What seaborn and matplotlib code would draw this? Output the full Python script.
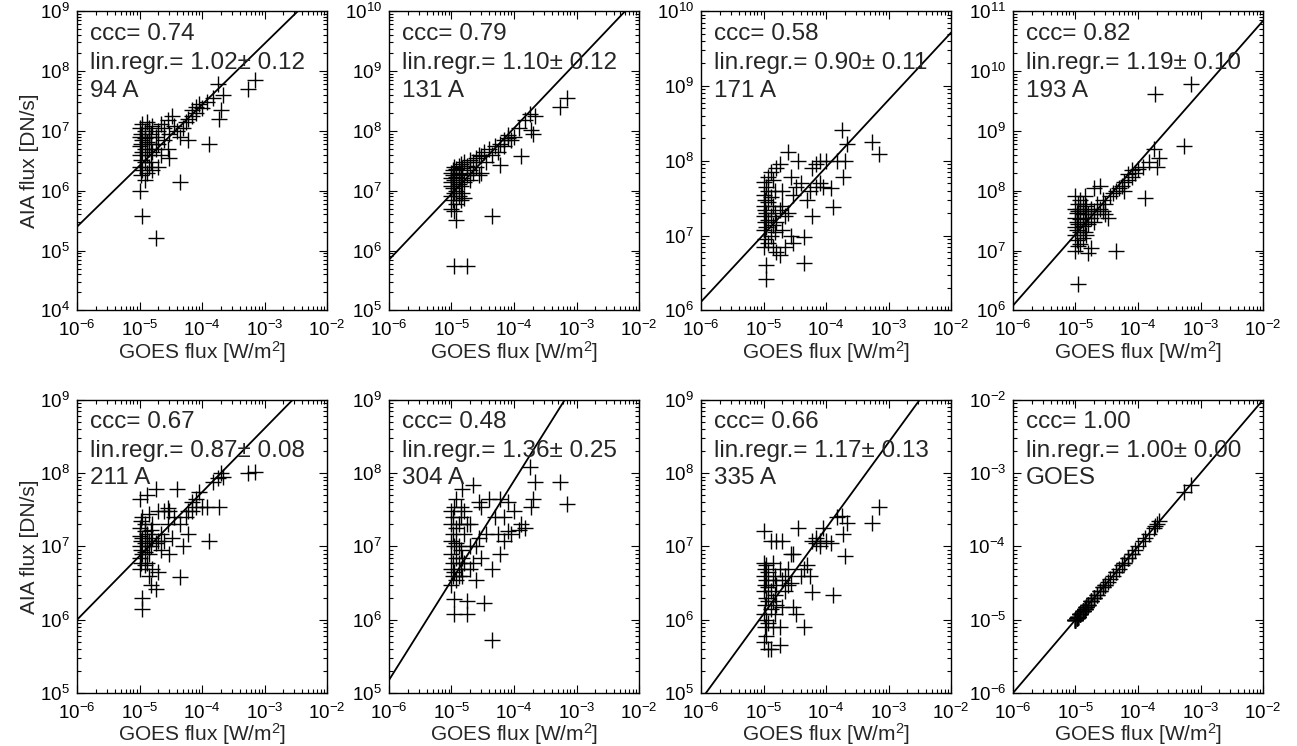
import numpy as np
import pandas as pd
import seaborn as sns
import matplotlib
matplotlib.use('Agg')
import matplotlib.pyplot as plt
from matplotlib.ticker import LogLocator, NullFormatter

# GOES peak flux of the flares (W/m^2), shared by all panels
goes = [1.0e-5, 1.0e-5, 1.0e-5, 1.0e-5, 1.0e-5, 1.0e-5,
        1.05e-5, 1.05e-5, 1.05e-5, 1.05e-5,
        1.1e-5, 1.1e-5, 1.1e-5, 1.1e-5, 1.1e-5,
        1.2e-5, 1.2e-5, 1.2e-5, 1.2e-5, 1.2e-5,
        1.3e-5, 1.3e-5, 1.3e-5, 1.3e-5,
        1.4e-5, 1.4e-5, 1.4e-5, 1.4e-5,
        1.5e-5, 1.5e-5, 1.5e-5,
        1.6e-5, 1.6e-5, 1.6e-5,
        1.8e-5, 1.8e-5, 1.8e-5,
        2.0e-5, 2.0e-5, 2.0e-5,
        2.2e-5, 2.2e-5, 2.5e-5, 2.5e-5, 2.8e-5, 2.8e-5, 3.0e-5, 3.0e-5,
        3.3e-5, 3.6e-5, 4.0e-5, 4.5e-5, 4.5e-5, 5.0e-5, 5.5e-5,
        6.0e-5, 6.0e-5, 7.0e-5, 7.0e-5, 8.0e-5, 8.0e-5, 9.0e-5,
        1.0e-4, 1.2e-4, 1.3e-4, 1.5e-4, 1.8e-4, 1.9e-4, 2.0e-4, 2.2e-4,
        5.5e-4, 7.0e-4]

# AIA peak flux (DN/s) per wavelength, same order as goes
aia_94 = [1.0e6, 2.5e6, 4e6, 5.5e6, 8e6, 1.1e7,
          1.8e6, 3.2e6, 6e6, 9e6,
          3.8e5, 2.2e6, 4.5e6, 7e6, 1.3e7,
          1.5e6, 3e6, 5e6, 7.5e6, 1.0e7,
          2e6, 4e6, 6.5e6, 1.4e7,
          2.5e6, 5e6, 8e6, 1.1e7,
          3e6, 6e6, 9e6,
          2.2e6, 4.5e6, 1.2e7,
          1.6e5, 5e6, 8e6,
          2.5e6, 6e6, 1e7,
          4e6, 1.3e7, 7e6, 1.1e7, 5e6, 1.5e7, 3.5e6, 9e6,
          1.8e7, 1.2e7, 1e7, 1.4e6, 8e6, 1.1e7, 1.4e7,
          7e6, 1.6e7, 1.8e7, 2.2e7, 2e7, 2.5e7, 2.8e7,
          2.4e7, 3e7, 6e6, 3.5e7, 6e7, 1.6e7, 2.2e7, 4e7,
          5e7, 7e7]
aia_131 = [5e6, 8e6, 1.2e7, 1.6e7, 2e7, 1.4e7,
           7e6, 1.1e7, 1.8e7, 2.2e7,
           5.5e5, 4.5e6, 9e6, 1.5e7, 2.5e7,
           3.2e6, 6e6, 1e7, 1.7e7, 2.3e7,
           8e6, 1.3e7, 1.9e7, 2.6e7,
           7e6, 1.2e7, 2e7, 2.8e7,
           9e6, 1.6e7, 2.4e7,
           7.5e6, 1.4e7, 3e7,
           5.5e5, 1.8e7, 2.6e7,
           1.5e7, 2.2e7, 3.2e7,
           2e7, 3e7, 2.5e7, 3.5e7, 1.8e7, 4e7, 2e7, 3.8e7,
           4.5e7, 3e7, 5e7, 3.8e6, 4e7, 5.5e7, 4.5e7,
           2.7e7, 6e7, 5.5e7, 7e7, 7.5e7, 8.5e7, 7e7,
           8e7, 1.1e8, 3.8e7, 1.5e8, 1.9e8, 1.05e8, 9e7, 1.8e8,
           2.5e8, 3.5e8]
aia_171 = [7e6, 1.2e7, 1.8e7, 2.5e7, 3.5e7, 5.2e7,
           9e6, 1.5e7, 2.2e7, 3e7,
           2.6e6, 4e6, 1.3e7, 2e7, 4.5e7,
           8e6, 1.6e7, 2.8e7, 4e7, 6e7,
           1e7, 1.8e7, 3.3e7, 7e7,
           7e6, 1.4e7, 2.5e7, 5.5e7,
           1.1e7, 2e7, 4e7,
           6e6, 1.5e7, 8e7,
           5.5e6, 2.2e7, 9e7,
           1.2e7, 2.5e7, 4e7,
           7e6, 1.8e7, 2e7, 1.3e8, 1e7, 6e7, 8e6, 3.5e7,
           4.5e7, 1e8, 5e7, 4.3e6, 9.5e6, 3e7, 4e7,
           1.8e7, 8e7, 4.5e7, 9e7, 5e7, 1e8, 4.5e7,
           1e8, 4.3e7, 2.4e7, 1e8, 2.6e8, 6e7, 1e8, 1.7e8,
           1.8e8, 1.25e8]
aia_193 = [1e7, 1.8e7, 2.5e7, 3.5e7, 5e7, 8e7,
           1.5e7, 2.2e7, 3e7, 4.2e7,
           2.8e6, 1.2e7, 2.8e7, 4.5e7, 6e7,
           1.3e7, 2e7, 3.3e7, 5e7, 7e7,
           1.6e7, 2.6e7, 4e7, 6e7,
           2e7, 3e7, 4.5e7, 8e7,
           1.8e7, 3.5e7, 5.5e7,
           9e6, 2.8e7, 4e7,
           1.1e7, 3.5e7, 5e7,
           3e7, 4.5e7, 1.1e8,
           4e7, 6e7, 5e7, 1.2e8, 4.5e7, 7e7, 4e7, 6e7,
           3.5e7, 8e7, 9e7, 1e7, 1e8, 1.1e8, 1.2e8,
           1e8, 1.4e8, 1.5e8, 1.9e8, 1.7e8, 2.2e8, 2e8,
           2.3e8, 2.5e8, 7.5e7, 3e8, 5e8, 4.2e9, 2.5e8, 3.5e8,
           5.5e8, 6e9]
aia_211 = [5e6, 7e6, 1e7, 1.4e7, 1.8e7, 4.5e7,
           6e6, 9e6, 1.2e7, 2.2e7,
           1.4e6, 2e6, 8e6, 1.3e7, 2.5e7,
           5.5e6, 8.5e6, 1.1e7, 1.6e7, 2e7,
           6e6, 1e7, 1.5e7, 5e7,
           4e6, 8e6, 1.2e7, 2.8e7,
           3e6, 1e7, 1.7e7,
           5e6, 1.3e7, 2e7,
           2.6e6, 1.1e7, 6e7,
           4.5e6, 1.2e7, 3e7,
           9e6, 1.5e7, 1.2e7, 3e7, 2e7, 3.3e7, 8e6, 3e7,
           1.3e7, 2.5e7, 6e7, 3.8e6, 2e7, 1e7, 2.5e7,
           1.5e7, 3e7, 4e7, 3e7, 3.5e7, 4.5e7, 5.5e7,
           3.5e7, 3.5e7, 1.2e7, 7.5e7, 8.5e7, 3.5e7, 1e8, 9e7,
           1e8, 1.05e8]
aia_304 = [3e6, 5e6, 8e6, 1.2e7, 2e7, 3e7,
           4e6, 6e6, 1.5e7, 2.5e7,
           1.2e6, 1.9e6, 4.5e6, 1e7, 3.5e7,
           3.5e6, 7e6, 1.1e7, 1.8e7, 4.5e7,
           4e6, 6e6, 1e7, 2e7,
           5e6, 9e6, 2.5e7, 3.5e7,
           4e6, 7e6, 6e7,
           6e6, 1.5e7, 3e7,
           1.2e6, 1.8e6, 2e7,
           5e6, 1e7, 2e7,
           6e6, 7e7, 3.5e6, 1e7, 1.3e7, 4e7, 7e6, 3.5e7,
           1.7e6, 1.5e7, 4.5e7, 5.3e5, 5e6, 2.5e7, 1.5e7,
           8e6, 4.5e7, 1.2e7, 2.5e7, 4e7, 1.6e7, 1.5e7,
           3e7, 1.7e7, 2e7, 1.8e7, 1.2e8, 3.5e7, 4.5e7, 7.5e7,
           7.5e7, 3.8e7]
aia_335 = [5e5, 1.2e6, 2.5e6, 4e6, 6e6, 1.6e7,
           8e5, 1.6e6, 3e6, 5e6,
           6e5, 1e6, 2e6, 3.5e6, 5.5e6,
           4e5, 9e5, 1.8e6, 2.8e6, 4.5e6,
           4e5, 1.4e6, 2.5e6, 1.2e7,
           8e5, 1.8e6, 3.5e6, 6e6,
           1.2e6, 2.2e6, 4e6,
           1.6e6, 3e6, 1.2e7,
           4.5e5, 8e5, 5e6,
           1.5e6, 3.5e6, 1.2e7,
           2.5e6, 4e6, 3e6, 5e6, 3.2e6, 8e6, 1.5e6, 8e6,
           1.2e6, 1.8e7, 4e6, 8e5, 5e6, 5.5e6, 4e6,
           2.4e6, 1.2e7, 1.1e7, 1.3e7, 1e7, 1.2e7, 1.8e7,
           1.2e7, 1.1e7, 2.2e6, 2.5e7, 2.6e7, 1.5e7, 7.5e6, 2.1e7,
           2.1e7, 3.4e7]

channels = ['94 A', '131 A', '171 A', '193 A', '211 A', '304 A', '335 A', 'GOES']
aia = [aia_94, aia_131, aia_171, aia_193, aia_211, aia_304, aia_335, goes]
ccc = [0.74, 0.79, 0.58, 0.82, 0.67, 0.48, 0.66, 1.00]
slope = [1.02, 1.10, 0.90, 1.19, 0.87, 1.36, 1.17, 1.00]
slope_err = [0.12, 0.12, 0.11, 0.10, 0.08, 0.25, 0.13, 0.00]
fit_y0 = [2.5e5, 7e5, 1.3e6, 1.2e6, 1e6, 1.5e5, 8.1e4, 1e-6]  # fit value at x=1e-6
ylims = [(1e4, 1e9), (1e5, 1e10), (1e6, 1e10), (1e6, 1e11),
         (1e5, 1e9), (1e5, 1e9), (1e5, 1e9), (1e-6, 1e-2)]

sns.set_style('ticks')
plt.rcParams['font.family'] = ['Liberation Sans', 'DejaVu Sans']
plt.rcParams['mathtext.default'] = 'regular'

fig = plt.figure(figsize=(12.97, 7.46), dpi=100)
lefts = [0.0594, 0.2999, 0.5405, 0.781]
rows = [(0.584, 0.401), (0.071, 0.393)]

for i in range(8):
    r, c = divmod(i, 4)
    ax = fig.add_axes([lefts[c], rows[r][0], 0.1928, rows[r][1]])
    df = pd.DataFrame({'goes': goes, 'aia': aia[i]})
    sns.scatterplot(data=df, x='goes', y='aia', marker='+', color='black',
                    s=125, linewidth=1.0, ax=ax, legend=False)
    xl = np.array([1e-6, 1e-2])
    sns.lineplot(x=xl, y=fit_y0[i] * (xl / 1e-6) ** slope[i], color='black',
                 linewidth=1.3, ax=ax)
    ax.set_xscale('log')
    ax.set_yscale('log')
    ax.set_xlim(1e-6, 1e-2)
    ax.set_ylim(*ylims[i])
    ax.xaxis.set_major_locator(LogLocator(base=10, numticks=10))
    ax.xaxis.set_minor_locator(LogLocator(base=10, subs=np.arange(2, 10), numticks=20))
    ax.yaxis.set_major_locator(LogLocator(base=10, numticks=10))
    ax.yaxis.set_minor_locator(LogLocator(base=10, subs=np.arange(2, 10), numticks=20))
    ax.xaxis.set_minor_formatter(NullFormatter())
    ax.yaxis.set_minor_formatter(NullFormatter())
    ax.tick_params(which='both', direction='in', top=True, right=True,
                   labelsize=13.5, width=0.8, colors='black')
    ax.tick_params(which='major', length=6)
    ax.tick_params(axis='x', which='major', pad=7)
    ax.tick_params(axis='y', which='major', pad=5)
    ax.tick_params(which='minor', length=3)
    for sp in ax.spines.values():
        sp.set_linewidth(1.0)
        sp.set_color('black')
    ax.set_xlabel('GOES flux [W/m$^2$]', fontsize=15, labelpad=-1)
    if c == 0:
        ax.set_ylabel('AIA flux [DN/s]', fontsize=15, labelpad=1)
    else:
        ax.set_ylabel('')
    ys = [0.925, 0.826, 0.732]
    ax.text(0.052, ys[0], f'ccc= {ccc[i]:.2f}', transform=ax.transAxes,
            fontsize=17.5, va='center')
    ax.text(0.052, ys[1], f'lin.regr.= {slope[i]:.2f}\u00b1 {slope_err[i]:.2f}',
            transform=ax.transAxes, fontsize=17.5, va='center')
    ax.text(0.052, ys[2], channels[i], transform=ax.transAxes,
            fontsize=17.5, va='center')

fig.savefig('out.png', dpi=100, facecolor='white')
